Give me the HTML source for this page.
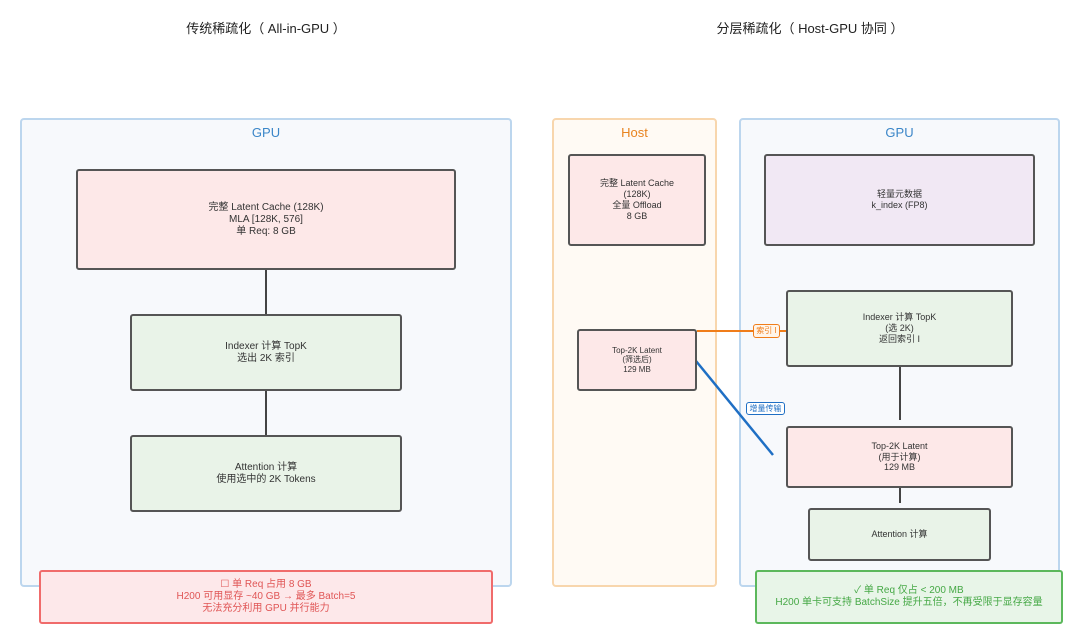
<!DOCTYPE html>
<html><head><meta charset="utf-8"><style>
body{margin:0;width:1080px;height:633px;background:#fff;position:relative;overflow:hidden;font-family:"Liberation Sans","Noto Sans CJK SC",sans-serif;color:#333}
.a{position:absolute;box-sizing:border-box}
.c{display:flex;align-items:center;justify-content:center;text-align:center;line-height:1.2}
.box{border:2px solid #555;border-radius:3px;font-size:10px}
.pk{background:#fde8e8}.gr{background:#e9f3e8}.pu{background:#f1e8f4}
.t{font-size:13px;color:#222}
.lab{font-size:13px;text-align:center}
</style></head><body>
<div class="a t" style="left:116px;top:18px;width:300px;text-align:center">传统稀疏化（ All-in-GPU ）</div>
<div class="a t" style="left:660px;top:18px;width:300px;text-align:center">分层稀疏化（ Host-GPU 协同 ）</div>

<div class="a" style="left:20px;top:118px;width:492px;height:469px;border:2px solid #bcd6ee;border-radius:4px;background:#f7f9fc"></div>
<div class="a lab" style="left:20px;top:125px;width:492px;color:#3b86c8">GPU</div>
<div class="a" style="left:552px;top:118px;width:165px;height:469px;border:2px solid #f8d6ad;border-radius:4px;background:#fffaf4"></div>
<div class="a lab" style="left:552px;top:125px;width:165px;color:#e8831e">Host</div>
<div class="a" style="left:739px;top:118px;width:321px;height:469px;border:2px solid #bcd6ee;border-radius:4px;background:#f7f9fc"></div>
<div class="a lab" style="left:739px;top:125px;width:321px;color:#3b86c8">GPU</div>

<svg class="a" style="left:0;top:0" width="1080" height="633">
<line x1="266" y1="270" x2="266" y2="314" stroke="#444" stroke-width="2"/>
<line x1="266" y1="391" x2="266" y2="435" stroke="#444" stroke-width="2"/>
<line x1="900" y1="367" x2="900" y2="420" stroke="#444" stroke-width="2"/>
<line x1="900" y1="488" x2="900" y2="503" stroke="#444" stroke-width="2"/>
<line x1="697" y1="331" x2="786" y2="331" stroke="#f07d1a" stroke-width="2"/>
<line x1="696" y1="361" x2="773" y2="455" stroke="#1f6fc4" stroke-width="2.5"/>
</svg>

<div class="a c box pk" style="left:76px;top:169px;width:380px;height:101px">完整 Latent Cache (128K)<br>MLA [128K, 576]<br>单 Req: 8 GB</div>
<div class="a c box gr" style="left:130px;top:314px;width:272px;height:77px">Indexer 计算 TopK<br>选出 2K 索引</div>
<div class="a c box gr" style="left:130px;top:435px;width:272px;height:77px">Attention 计算<br>使用选中的 2K Tokens</div>

<div class="a c box pk" style="left:568px;top:154px;width:138px;height:92px;font-size:9px">完整 Latent Cache<br>(128K)<br>全量 Offload<br>8 GB</div>
<div class="a c box pk" style="left:577px;top:329px;width:120px;height:62px;font-size:8px">Top-2K Latent<br>(筛选后)<br>129 MB</div>

<div class="a c box pu" style="left:764px;top:154px;width:271px;height:92px;font-size:9px">轻量元数据<br>k_index (FP8)</div>
<div class="a c box gr" style="left:786px;top:290px;width:227px;height:77px;font-size:9px">Indexer 计算 TopK<br>(选 2K)<br>返回索引 I</div>
<div class="a c box pk" style="left:786px;top:426px;width:227px;height:62px;font-size:9px">Top-2K Latent<br>(用于计算)<br>129 MB</div>
<div class="a c box gr" style="left:808px;top:508px;width:183px;height:53px;font-size:9px">Attention 计算</div>

<div class="a c" style="left:753px;top:324px;width:27px;height:14px;border:1.5px solid #f07d1a;border-radius:3px;background:#fff5ea;color:#f07d1a;font-size:8px">索引 I</div>
<div class="a c" style="left:746px;top:402px;width:39px;height:13px;border:1.5px solid #1f6fc4;border-radius:3px;background:#fff;color:#1f6fc4;font-size:8px">增量传输</div>

<div class="a c" style="left:39px;top:570px;width:454px;height:54px;border:2px solid #f06b6b;border-radius:3px;background:#fde8ea;color:#e05555;font-size:10px">☐ 单 Req 占用 8 GB<br>H200 可用显存 ~40 GB → 最多 Batch=5<br>无法充分利用 GPU 并行能力</div>
<div class="a c" style="left:755px;top:570px;width:308px;height:54px;border:2px solid #5cb85c;border-radius:3px;background:#e8f5e8;color:#45a845;font-size:10px">✓ 单 Req 仅占 &lt; 200 MB<br>H200 单卡可支持 BatchSize 提升五倍，不再受限于显存容量</div>
</body></html>
